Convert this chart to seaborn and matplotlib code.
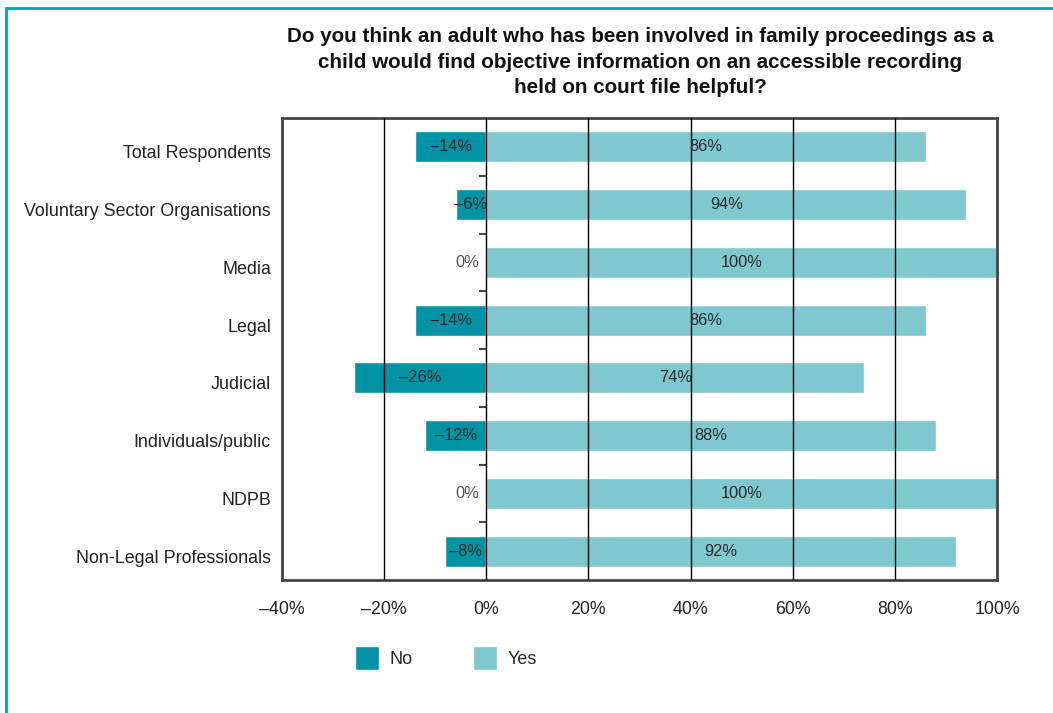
import pandas as pd
import numpy as np
import matplotlib.pyplot as plt
import matplotlib.transforms as mtransforms
import seaborn as sns
from matplotlib.patches import Patch, Rectangle

groups = ['Total Respondents', 'Voluntary Sector Organisations', 'Media', 'Legal',
          'Judicial', 'Individuals/public', 'NDPB', 'Non-Legal Professionals']
no_vals = [-14, -6, 0, -14, -26, -12, 0, -8]
yes_vals = [86, 94, 100, 86, 74, 88, 100, 92]
xticks = [-40, -20, 0, 20, 40, 60, 80, 100]
title = ('Do you think an adult who has been involved in family proceedings as a\n'
         'child would find objective information on an accessible recording\n'
         'held on court file helpful?')

c_no = '#0093a6'
c_yes = '#80c8d0'

df = pd.DataFrame({'group': groups * 2,
                   'value': no_vals + yes_vals,
                   'answer': ['No'] * len(groups) + ['Yes'] * len(groups)})

sns.set_style('white')
plt.rcParams['font.family'] = ['Liberation Sans', 'DejaVu Sans']

fig = plt.figure(figsize=(10.53, 7.13), dpi=100)
ax = fig.add_axes([282/1053, 1-580/713, 715/1053, 462/713])

sns.barplot(data=df, x='value', y='group', hue='answer', dodge=False,
            palette={'No': c_no, 'Yes': c_yes}, width=0.54, orient='h',
            legend=False, ax=ax, saturation=1)

ax.set_xlim(-40, 100)
ax.set_ylim(len(groups) - 0.5, -0.5)
ax.set_xticks(xticks)
ax.set_xticklabels([f'{v}%'.replace('-', '\u2013') for v in xticks], fontsize=12.8, color='#222222')
ax.set_xlabel('')
ax.set_ylabel('')
ax.tick_params(axis='x', direction='out', length=7, width=1.2, color='#222222', pad=8)
ax.tick_params(axis='y', length=0, pad=8, labelsize=12.9, labelcolor='#222222')

# category labels sit a little below the bar centres
shift = mtransforms.ScaledTranslation(0, -5/100, fig.dpi_scale_trans)
for lab in ax.get_yticklabels():
    lab.set_transform(lab.get_transform() + shift)

for v in xticks[1:-1]:
    ax.axvline(v, color='black', lw=1, zorder=5)
for s in ax.spines.values():
    s.set_color('#444444')
    s.set_linewidth(2)

# small ticks on the zero line between groups
ax.hlines(np.arange(len(groups) - 1) + 0.5, -1.4, 0, color='#444444', lw=1.5, zorder=5)

for i, (n, y) in enumerate(zip(no_vals, yes_vals)):
    if n == 0:
        ax.text(-1.5, i, '0%', ha='right', va='center', fontsize=11.8, color='#555555', zorder=6)
    else:
        ax.text(n / 2, i, f'{n}%'.replace('-', '\u2013'), ha='center', va='center',
                fontsize=11.8, color='#2a2a2a', zorder=6)
    ax.text(y / 2, i, f'{y}%', ha='center', va='center', fontsize=11.8, color='#2a2a2a', zorder=6)

fig.text(640/1053, 1-62/713, title, ha='center', va='center', fontsize=14.9,
         fontweight='bold', linespacing=1.42, color='#111111')

handles = [Patch(facecolor=c_no, label='No'), Patch(facecolor=c_yes, label='Yes')]
fig.legend(handles=handles, loc='center', bbox_to_anchor=(446/1053, 1-658/713), ncol=2,
           frameon=False, fontsize=13, handlelength=1.35, handleheight=1.75,
           columnspacing=3.3, handletextpad=0.6)

fig.patches.append(Rectangle((6/1053, -0.1), 1.1, 1 - 8/713 + 0.1, transform=fig.transFigure,
                             fill=False, edgecolor='#00a3b4', lw=2))

fig.savefig('out.png', dpi=100)
